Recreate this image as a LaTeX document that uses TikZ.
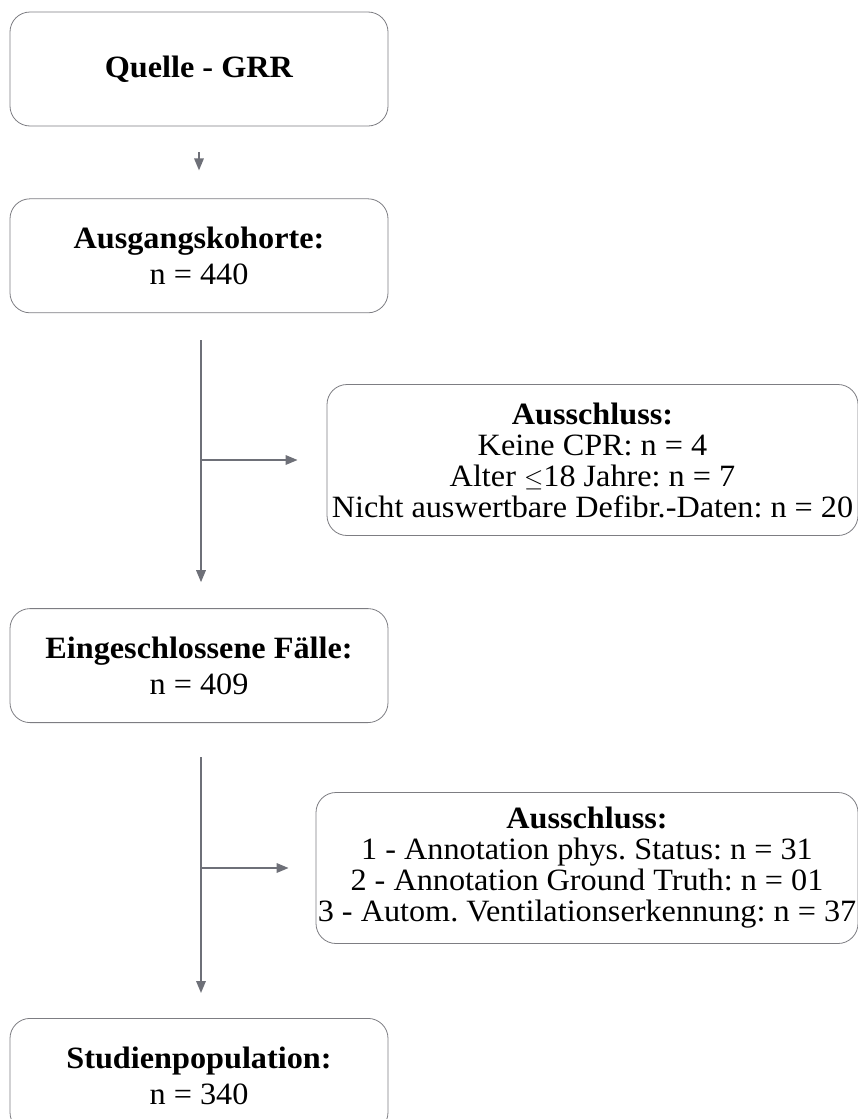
\documentclass[tikz,border=0pt]{standalone}
\usepackage{fontspec}
\setmainfont[FakeStretch=1.04]{Liberation Serif}
\definecolor{mygray}{RGB}{110,112,120}
\definecolor{myborder}{RGB}{125,125,130}
\usetikzlibrary{positioning,arrows.meta}
\frenchspacing

\begin{document}
\begin{tikzpicture}[x=1pt,y=-1pt,
    every node/.style={align=center,font=\fontsize{31}{36}\selectfont},
    box/.style={draw=myborder,line width=0.8pt,rounded corners=20pt,
      minimum width=378pt,minimum height=114pt,inner sep=0pt},
    exbox/.style={draw=myborder,line width=0.8pt,rounded corners=20pt,
      minimum height=151pt,inner sep=0pt,font=\fontsize{31}{31}\selectfont},
    conn/.style={draw=mygray,line width=1.7pt,-{Triangle[length=12pt,width=9.5pt]}},
    node distance=72pt
    ]
    \useasboundingbox (0,0) rectangle (857,1119);

    \node (src) [box] at (199,69) {\textbf{Quelle - GRR}};
    \node (coh) [box,below=of src] {\textbf{Ausgangskohorte:}\\n = 440};
    \node (inc) [box,below=295pt of coh] {\textbf{Eingeschlossene Fälle:}\\n = 409};
    \node (pop) [box,below=295pt of inc] {\textbf{Studienpopulation:}\\n = 340};
    \node (ex1) [exbox,minimum width=531pt] at (592.5,460)
      {\textbf{Ausschluss:}\\Keine CPR: n = 4\\Alter $\leq$18 Jahre: n = 7\\Nicht auswertbare Defibr.-Daten: n = 20};
    \node (ex2) [exbox,minimum width=542pt] at (587,868)
      {\textbf{Ausschluss:}\\1 - Annotation phys. Status: n = 31\\2 - Annotation Ground Truth: n = 01\\3 - Autom. Ventilationserkennung: n = 37};

    % branch points
    \coordinate (b1) at (201,460);
    \coordinate (b2) at (201,868);

    % the edges
    \draw[conn,shorten <=26pt,shorten >=28pt] (src) -- (coh);
    \draw[conn,shorten <=27pt,shorten >=26pt] (coh.south -| b1) -- (inc.north -| b1);
    \draw[conn,shorten >=29pt] (b1) -- (ex1.west);
    \draw[conn,shorten <=34pt,shorten >=25pt] (inc.south -| b2) -- (pop.north -| b2);
    \draw[conn,shorten >=27pt] (b2) -- (ex2.west);
\end{tikzpicture}
\end{document}
